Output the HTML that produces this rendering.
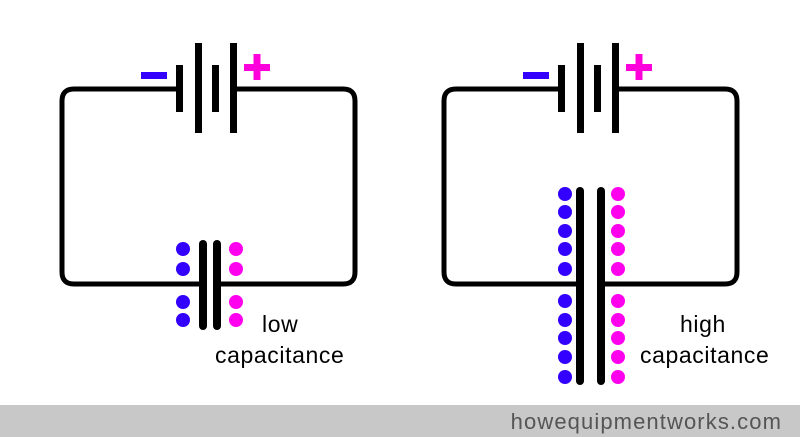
<!DOCTYPE html><html><head><style>body{margin:0;background:#fff}svg{display:block}</style></head><body>
<svg width="800" height="437" xmlns="http://www.w3.org/2000/svg" font-family="Liberation Sans, sans-serif">
<g fill="none" stroke="#000" stroke-width="5">
<path d="M176 89 H74 Q62 89 62 101 V272 Q62 284 74 284 H199"/>
<path d="M237 89 H343 Q355 89 355 101 V272 Q355 284 343 284 H220"/>
</g>
<g fill="#000">
<rect x="176" y="65" width="7" height="47"/><rect x="195" y="43" width="7" height="90"/>
<rect x="212" y="65" width="7" height="47"/><rect x="230" y="43" width="7" height="90"/>
<rect x="558" y="65" width="7" height="47"/><rect x="577" y="43" width="7" height="90"/>
<rect x="594" y="65" width="7" height="47"/><rect x="612" y="43" width="7" height="90"/>
<rect x="199" y="240" width="8" height="90" rx="4"/><rect x="213" y="240" width="8" height="90" rx="4"/>
<rect x="576" y="187" width="8" height="198" rx="4"/><rect x="597" y="187" width="8" height="198" rx="4"/>
</g>
<g fill="none" stroke="#000" stroke-width="5">
<path d="M558 89 H456 Q444 89 444 101 V272 Q444 284 456 284 H576"/>
<path d="M619 89 H725 Q737 89 737 101 V272 Q737 284 725 284 H605"/>
</g>
<rect x="141" y="72" width="26" height="7" fill="#3300ff"/>
<rect x="523" y="72" width="26" height="7" fill="#3300ff"/>
<path d="M244 64h26v7h-26zM253.5 54h7v26h-7z" fill="#ff00dd"/>
<path d="M626 64h26v7h-26zM635.5 54h7v26h-7z" fill="#ff00dd"/>
<g fill="#3300ff">
<circle cx="183" cy="249" r="7"/><circle cx="183" cy="269" r="7"/><circle cx="183" cy="302" r="7"/><circle cx="183" cy="320" r="7"/>
<circle cx="565" cy="194" r="7"/><circle cx="565" cy="212" r="7"/><circle cx="565" cy="231" r="7"/><circle cx="565" cy="249" r="7"/><circle cx="565" cy="269" r="7"/>
<circle cx="565" cy="301" r="7"/><circle cx="565" cy="320" r="7"/><circle cx="565" cy="338" r="7"/><circle cx="565" cy="357" r="7"/><circle cx="565" cy="377" r="7"/>
</g>
<g fill="#ff00ee">
<circle cx="236" cy="249" r="7"/><circle cx="236" cy="269" r="7"/><circle cx="236" cy="302" r="7"/><circle cx="236" cy="320" r="7"/>
<circle cx="618" cy="194" r="7"/><circle cx="618" cy="212" r="7"/><circle cx="618" cy="231" r="7"/><circle cx="618" cy="249" r="7"/><circle cx="618" cy="269" r="7"/>
<circle cx="618" cy="301" r="7"/><circle cx="618" cy="320" r="7"/><circle cx="618" cy="338" r="7"/><circle cx="618" cy="357" r="7"/><circle cx="618" cy="377" r="7"/>
</g>
<g font-size="23" fill="#000" letter-spacing="0.6">
<text x="262" y="332">low</text><text x="215" y="363">capacitance</text>
<text x="680" y="332">high</text><text x="640" y="363">capacitance</text>
</g>
<rect x="0" y="405" width="800" height="32" fill="#c8c8c8"/>
<text x="782" y="429" font-size="22" fill="#555" text-anchor="end" letter-spacing="1.1">howequipmentworks.com</text>
</svg></body></html>
